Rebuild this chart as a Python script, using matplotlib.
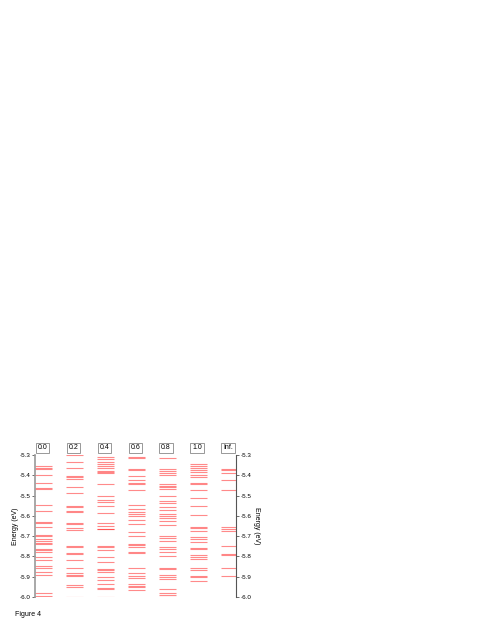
import matplotlib.pyplot as plt
from matplotlib.transforms import blended_transform_factory

# Energy levels (eV) for each column
labels = ["0.0", "0.2", "0.4", "0.6", "0.8", "1.0", "Inf."]

lev_00 = [-5.353, -5.362, -5.37, -5.397, -5.438, -5.461, -5.466, -5.548, -5.574,
          -5.629, -5.634, -5.655, -5.692, -5.698, -5.712, -5.722, -5.732, -5.739,
          -5.762, -5.768, -5.778, -5.805, -5.817, -5.848, -5.856, -5.878, -5.889,
          -5.978, -5.997]
lev_02 = [-5.302, -5.336, -5.366, -5.401, -5.41, -5.418, -5.459, -5.485, -5.551,
          -5.558, -5.576, -5.583, -5.633, -5.64, -5.658, -5.672, -5.748, -5.755,
          -5.781, -5.786, -5.816, -5.855, -5.882, -5.89, -5.898, -5.94, -5.95, -6.0]
lev_04 = [-5.312, -5.32, -5.333, -5.345, -5.356, -5.365, -5.377, -5.385, -5.388,
          -5.445, -5.504, -5.524, -5.531, -5.549, -5.587, -5.633, -5.651, -5.663,
          -5.667, -5.746, -5.754, -5.77, -5.803, -5.828, -5.861, -5.869, -5.879,
          -5.899, -5.914, -5.935, -5.955, -5.962, -5.998]
lev_06 = [-5.309, -5.315, -5.367, -5.375, -5.404, -5.424, -5.437, -5.444, -5.473,
          -5.548, -5.565, -5.58, -5.593, -5.601, -5.621, -5.641, -5.681, -5.698,
          -5.738, -5.745, -5.753, -5.776, -5.784, -5.855, -5.884, -5.895, -5.906,
          -5.935, -5.944, -5.952, -5.966]
lev_08 = [-5.313, -5.37, -5.378, -5.387, -5.398, -5.443, -5.451, -5.46, -5.469,
          -5.502, -5.529, -5.537, -5.556, -5.569, -5.591, -5.6, -5.608, -5.627,
          -5.646, -5.697, -5.711, -5.724, -5.753, -5.765, -5.778, -5.799, -5.855,
          -5.86, -5.891, -5.901, -5.912, -5.958, -5.98, -5.989, -6.0]
lev_10 = [-5.342, -5.352, -5.362, -5.372, -5.382, -5.399, -5.409, -5.436, -5.443,
          -5.471, -5.51, -5.552, -5.597, -5.653, -5.662, -5.673, -5.702, -5.715,
          -5.731, -5.756, -5.765, -5.793, -5.803, -5.812, -5.855, -5.868, -5.895,
          -5.901, -5.92]
lev_inf = [-5.369, -5.376, -5.391, -5.424, -5.473, -5.657, -5.665, -5.674, -5.749,
           -5.788, -5.795, -5.855, -5.896]

levels = [lev_00, lev_02, lev_04, lev_06, lev_08, lev_10, lev_inf]
yticks = [-5.3, -5.4, -5.5, -5.6, -5.7, -5.8, -5.9, -6.0]

plt.rcParams['font.family'] = ['Liberation Sans', 'DejaVu Sans']

fig = plt.figure(figsize=(4.91, 6.35), dpi=100)
ax = fig.add_axes([0.0713, 0.0598, 0.4094, 0.2236])

width = 0.55
for i, lev in enumerate(levels):
    ax.hlines(lev, i, i + width, colors='#ff2a2a', linewidth=0.8, alpha=0.55)

ax.set_xlim(0, 6.5)
ax.set_ylim(-6.0, -5.3)
ax.set_xticks([])
ax.set_yticks(yticks)
ax.set_yticklabels([f"{t:.1f}" for t in yticks])
ax.tick_params(axis='y', direction='out', length=2.5, width=0.6, labelsize=4.5,
               colors='#555555', labelcolor='black', pad=1)
for s in ['top', 'bottom']:
    ax.spines[s].set_visible(False)
ax.spines['left'].set_color('#999999')
ax.spines['left'].set_linewidth(1.2)
ax.spines['right'].set_visible(False)
ax.set_ylabel("Energy (eV)", fontsize=5, labelpad=0)

ax2 = ax.twinx()
ax2.set_ylim(-6.0, -5.3)
ax2.set_yticks(yticks)
ax2.set_yticklabels([f"{t:.1f}" for t in yticks])
ax2.tick_params(axis='y', direction='out', length=2.5, width=0.6, labelsize=4.5,
                colors='#555555', labelcolor='black', pad=1)
for s in ['top', 'bottom', 'left']:
    ax2.spines[s].set_visible(False)
ax2.spines['right'].set_color('#555555')
ax2.spines['right'].set_linewidth(0.8)
ax2.set_ylabel("Energy (eV)", fontsize=5, rotation=270, labelpad=6)

trans = blended_transform_factory(ax.transData, ax.transAxes)
for i, lab in enumerate(labels):
    ax.text(i + 0.08, 1.025, lab, transform=trans, fontsize=5, ha='left', va='bottom',
            bbox=dict(boxstyle='square,pad=0.25', facecolor='white',
                      edgecolor='#888888', linewidth=0.6))

fig.text(15 / 491, 1 - 614 / 635, "Figure 4", fontsize=5, ha='left', va='center')

fig.savefig("out.png", dpi=100)
